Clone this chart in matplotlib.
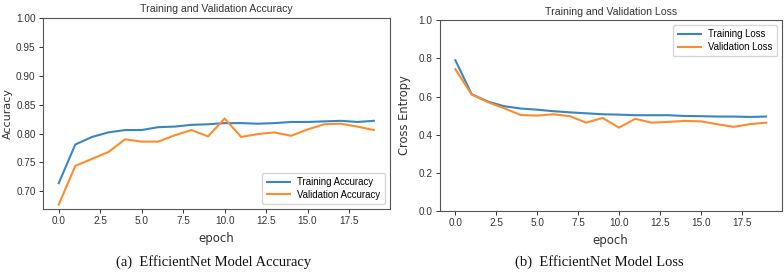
import matplotlib
matplotlib.use("Agg")
import matplotlib.pyplot as plt

epochs = list(range(20))
train_acc = [0.714, 0.781, 0.794, 0.802, 0.806, 0.806, 0.811, 0.812, 0.815, 0.816,
             0.818, 0.818, 0.817, 0.818, 0.820, 0.820, 0.821, 0.822, 0.820, 0.822]
val_acc = [0.677, 0.744, 0.756, 0.768, 0.790, 0.786, 0.786, 0.797, 0.806, 0.795,
           0.826, 0.794, 0.799, 0.802, 0.796, 0.807, 0.816, 0.817, 0.812, 0.806]
train_loss = [0.790, 0.612, 0.573, 0.549, 0.537, 0.531, 0.523, 0.517, 0.512, 0.507,
              0.505, 0.502, 0.502, 0.502, 0.498, 0.497, 0.495, 0.495, 0.493, 0.495]
val_loss = [0.743, 0.610, 0.570, 0.538, 0.503, 0.500, 0.507, 0.497, 0.463, 0.488,
            0.437, 0.483, 0.463, 0.467, 0.472, 0.470, 0.455, 0.441, 0.455, 0.463]

plt.rcParams["font.family"] = ["Liberation Sans", "DejaVu Sans"]

blue = "#3a86c4"
orange = "#ff8c2a"
tc = "#333333"

fig = plt.figure(figsize=(7.84, 2.72), dpi=100)
ax1 = fig.add_axes([0.0548, 0.232, 0.4422, 0.702])
ax2 = fig.add_axes([0.561, 0.224, 0.436, 0.702])

for ax in (ax1, ax2):
    for s in ax.spines.values():
        s.set_color("#555555")
        s.set_linewidth(0.8)
    ax.tick_params(labelsize=7.2, colors=tc, length=3, width=0.7, pad=2.2)

ax1.plot(epochs, train_acc, color=blue, lw=1.5, label="Training Accuracy")
ax1.plot(epochs, val_acc, color=orange, lw=1.5, label="Validation Accuracy")
ax1.set_ylim(min(ax1.get_ylim()), 1.0)
ax1.set_xticks([0, 2.5, 5, 7.5, 10, 12.5, 15, 17.5])
ax1.set_yticks([0.70, 0.75, 0.80, 0.85, 0.90, 0.95, 1.00])
ax1.set_yticklabels(["0.70", "0.75", "0.80", "0.85", "0.90", "0.95", "1.00"])
ax1.set_ylabel("Accuracy", fontsize=8.0, color=tc, family="DejaVu Sans")
ax1.yaxis.set_label_coords(-0.087, 0.5)
ax1.set_xlabel("epoch", fontsize=8.5, color=tc, labelpad=4, family="DejaVu Sans")
ax1.set_title("Training and Validation Accuracy", fontsize=7.6, color=tc, pad=4)
ax1.legend(loc="lower right", fontsize=6.9, frameon=True, handlelength=2.4,
           borderpad=0.45, labelspacing=0.3, borderaxespad=0.5)

ax2.plot(epochs, train_loss, color=blue, lw=1.5, label="Training Loss")
ax2.plot(epochs, val_loss, color=orange, lw=1.5, label="Validation Loss")
ax2.set_ylim(0, 1.0)
ax2.set_xticks([0, 2.5, 5, 7.5, 10, 12.5, 15, 17.5])
ax2.set_yticks([0.0, 0.2, 0.4, 0.6, 0.8, 1.0])
ax2.set_ylabel("Cross Entropy", fontsize=8.3, color=tc, family="DejaVu Sans")
ax2.yaxis.set_label_coords(-0.085, 0.5)
ax2.set_xlabel("epoch", fontsize=8.5, color=tc, labelpad=4, family="DejaVu Sans")
ax2.set_title("Training and Validation Loss", fontsize=7.6, color=tc, pad=4)
ax2.legend(loc="upper right", fontsize=6.9, frameon=True, handlelength=2.4,
           borderpad=0.45, labelspacing=0.3, borderaxespad=0.5)

fig.text(0.272, 0.012, "(a)  EfficientNet Model Accuracy", fontsize=10.5,
         family="Liberation Serif", ha="center", va="bottom", color="#111111")
fig.text(0.765, 0.012, "(b)  EfficientNet Model Loss", fontsize=10.5,
         family="Liberation Serif", ha="center", va="bottom", color="#111111")

fig.savefig("out.png", dpi=100)
